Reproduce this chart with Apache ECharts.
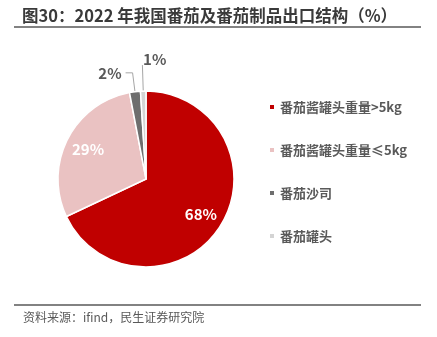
<!DOCTYPE html>
<html><head><meta charset="utf-8">
<script src="https://cdn.jsdelivr.net/npm/echarts@6/dist/echarts.min.js"></script>
<style>html,body{margin:0;padding:0;background:#fff}#c{width:437px;height:337px}</style>
</head><body><div id="c"></div>
<script>
const categories = ['番茄酱罐头重量>5kg', '番茄酱罐头重量≤5kg', '番茄沙司', '番茄罐头'];
const values = [68, 29, 2, 1];
const colors = ['#C00000', '#EAC2C2', '#6E6E6E', '#D4D4D4'];
const titleText = '图30：2022 年我国番茄及番茄制品出口结构（%）';
const sourceText = '资料来源：ifind，民生证券研究院';

const FONT = '"Noto Sans CJK SC", "Noto Sans", sans-serif';
const cx = 146, cy = 179, R = 88;

const mainData = categories.map((n, i) => {
  const d = { name: n, value: values[i], itemStyle: { color: colors[i] } };
  if (i < 2) {
    d.label = { show: false };
    d.labelLine = { show: false };
  } else if (i === 2) {
    d.labelLine = { show: true, length: 19, length2: 7 };
  } else {
    d.labelLine = { show: true, length: 26, length2: 0 };
  }
  return d;
});
const innerLabelData = categories.map((n, i) => ({
  name: n, value: values[i],
  label: { show: i < 2 }
}));

const chart = echarts.init(document.getElementById('c'), null, { renderer: 'canvas' });
chart.setOption({
  animation: false,
  backgroundColor: '#fff',
  legend: {
    orient: 'vertical',
    left: 268, top: 99, padding: 0,
    icon: 'rect', itemWidth: 6, itemHeight: 6,
    itemGap: 27,
    data: categories,
    textStyle: { fontFamily: FONT, fontSize: 13, fontWeight: 'bold', color: '#595959', lineHeight: 16 }
  },
  graphic: [
    { type: 'text', left: 22, top: 7, style: { text: titleText, font: 'bold 16.5px ' + FONT, fill: '#3A3A3A' } },
    { type: 'line', shape: { x1: 14, y1: 27, x2: 421, y2: 27 }, style: { stroke: '#595959', lineWidth: 1.5 } },
    { type: 'line', shape: { x1: 14, y1: 305, x2: 421, y2: 305 }, style: { stroke: '#595959', lineWidth: 1.5 } },
    { type: 'text', left: 23, top: 311, style: { text: sourceText, font: '12px ' + FONT, fill: '#595959' } }
  ],
  series: [
    {
      type: 'pie',
      center: [cx, cy], radius: [0, R],
      startAngle: 90, clockwise: true,
      avoidLabelOverlap: false,
      itemStyle: { borderColor: '#fff', borderWidth: 1.5 },
      label: {
        show: true, position: 'outside',
        formatter: '{d}%',
        fontFamily: FONT, fontSize: 15, fontWeight: 'bold', color: '#595959',
        distanceToLabelLine: 4
      },
      labelLine: { lineStyle: { color: '#A6A6A6', width: 1 } },
      labelLayout: function (p) {
        if (p.dataIndex === 3) {
          return { dx: 28, dy: -6, labelLinePoints: p.labelLinePoints };
        }
      },
      data: mainData
    },
    {
      type: 'pie',
      center: [cx, cy], radius: [0, R * 1.41],
      startAngle: 90, clockwise: true,
      silent: true,
      legendHoverLink: false,
      itemStyle: { color: 'rgba(0,0,0,0)' },
      label: {
        show: false, position: 'inside',
        formatter: '{d}%',
        fontFamily: FONT, fontSize: 15, fontWeight: 'bold', color: '#fff'
      },
      labelLine: { show: false },
      data: innerLabelData
    }
  ]
});
</script></body></html>
